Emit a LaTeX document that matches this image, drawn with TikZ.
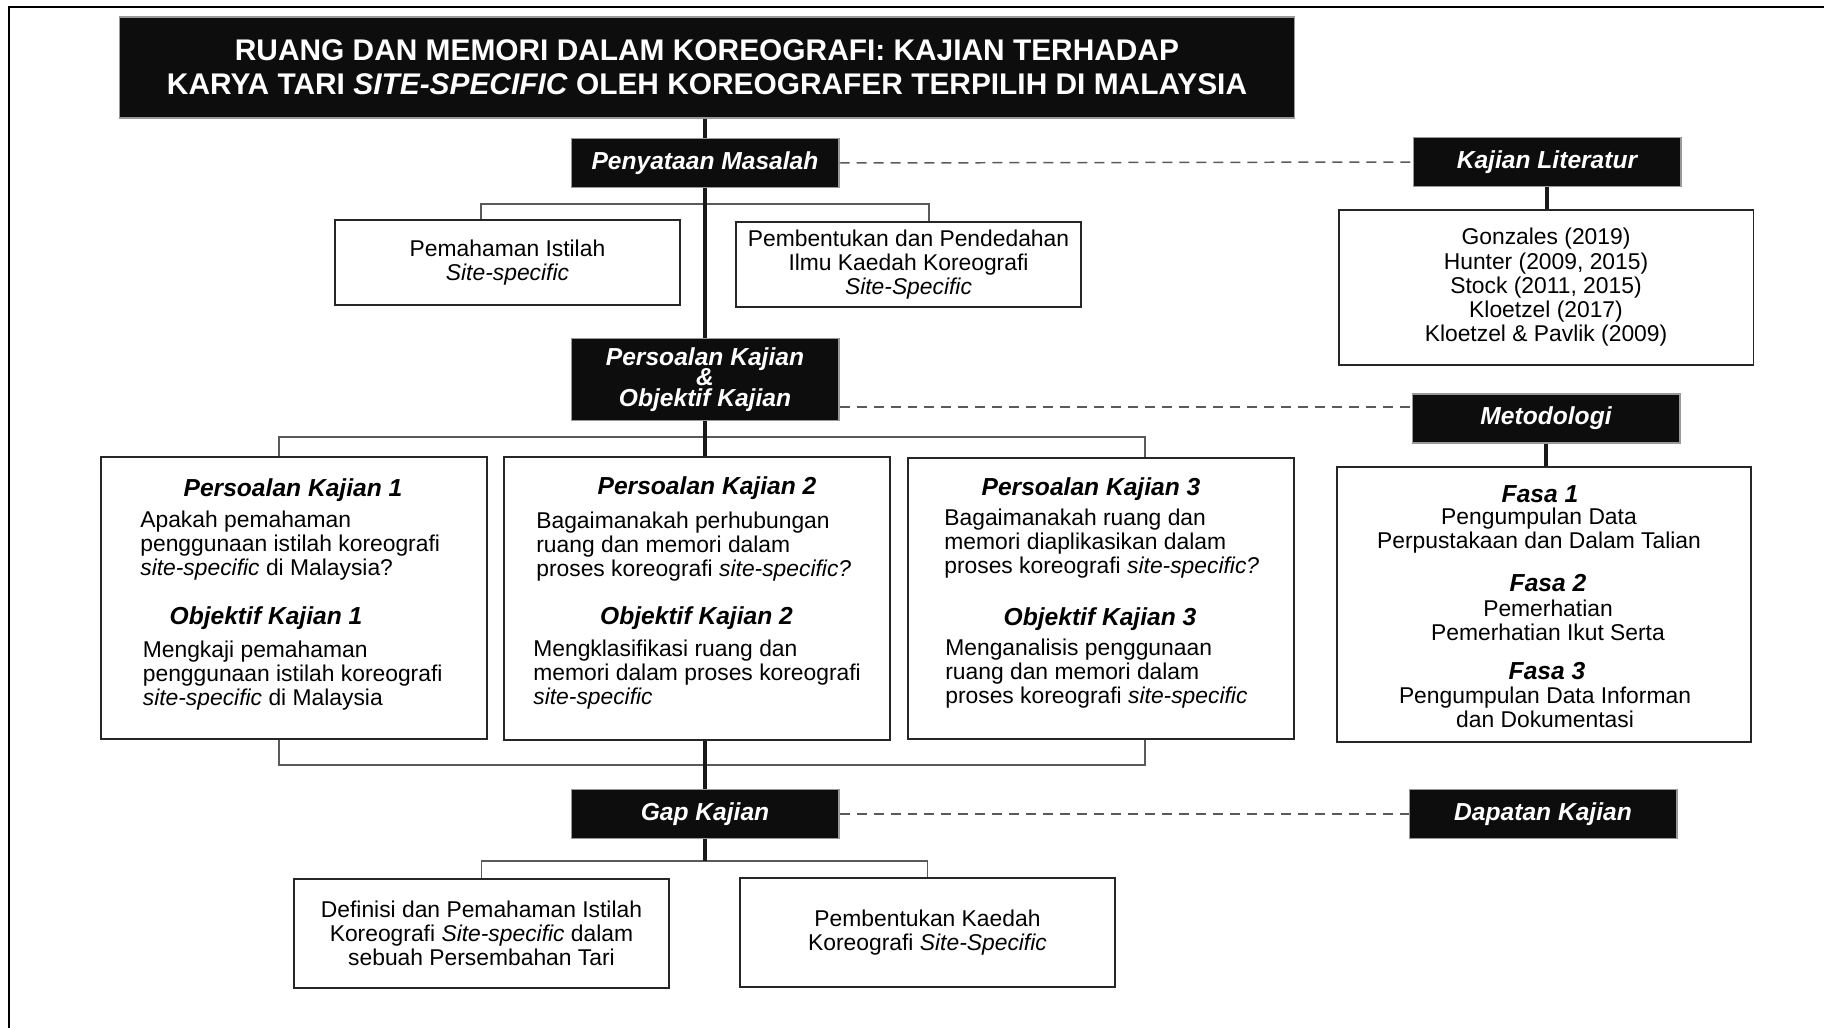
\documentclass[tikz,border=0pt]{standalone}
\usepackage{fontspec}
\setmainfont{Liberation Sans}
\usepackage {tikz}
\usetikzlibrary {positioning}
\definecolor {boxblack}{HTML}{0D0D0D}
\definecolor {linegray}{HTML}{5A5A5A}

\begin{document}
\lineskiplimit=-100pt
\begin{tikzpicture}[x=0.02cm,y=-0.02cm]
  \tikzstyle{head}=[rectangle, fill=boxblack, draw=gray!80, line width=0.6pt, text=white, inner sep=0pt,
minimum width=5.36cm, minimum height=0.98cm, align=center, font=\fontsize{14}{11.6}\selectfont\bfseries\itshape]
  \tikzstyle{card}=[rectangle, draw=black!85, line width=1.1pt, fill=white, inner sep=0pt, align=center,
font=\fontsize{13}{13.8}\selectfont]
  \tikzstyle{txt}=[inner sep=0pt, align=left, font=\fontsize{13}{13.7}\selectfont]
  \tikzstyle{sub}=[inner sep=0pt, font=\fontsize{14}{16}\selectfont\bfseries\itshape]
  \tikzstyle{spine}=[line width=2.8pt, black!90]
  \tikzstyle{bracket}=[line width=0.85pt, linegray]
  \tikzstyle{dashline}=[line width=0.85pt, linegray, dash pattern=on 0.2cm off 0.14cm]

  \useasboundingbox (0,0) rectangle (1824,1027);
  \draw[line width=1.1pt] (9,1040) -- (9,7) -- (1840,7);

  \node[head, minimum width=23.52cm, minimum height=2.02cm, font=\fontsize{17}{19.2}\selectfont\bfseries] (T_title) at (707,67.5)
    {RUANG DAN MEMORI DALAM KOREOGRAFI: KAJIAN TERHADAP\\KARYA TARI \textit{SITE-SPECIFIC} OLEH KOREOGRAFER TERPILIH DI MALAYSIA};

  \node[head] (H_pm) at (705,163) {Penyataan Masalah};
  \node[head] (H_kl) at (1547,162) {Kajian Literatur};
  \node[head, minimum height=1.64cm] (H_po) at (705,379.5) {Persoalan Kajian\\\&\\Objektif Kajian};
  \node[head] (H_meto) at (1546,418.5) {Metodologi};
  \node[head] (H_gap) at (705,814) {Gap Kajian};
  \node[head] (H_dap) at (1543,814) {Dapatan Kajian};

  \node[card, minimum width=6.9cm, minimum height=1.7cm] (B_istilah) at (507.5,262.5) {Pemahaman Istilah\\\textit{Site-specific}};
  \node[card, minimum width=6.9cm, minimum height=1.7cm] (B_pend) at (908.5,264.5)
    {Pembentukan dan Pendedahan\\Ilmu Kaedah Koreografi\\\textit{Site-Specific}};
  \node[card, minimum width=8.3cm, minimum height=3.1cm] (B_lit) at (1546,287.5)
    {Gonzales (2019)\\Hunter (2009, 2015)\\Stock (2011, 2015)\\Kloetzel (2017)\\Kloetzel \& Pavlik (2009)};

  \node[card, minimum width=7.72cm, minimum height=5.64cm] (B_pk1) at (294,598) {};
  \node[card, minimum width=7.72cm, minimum height=5.66cm] (B_pk2) at (697,598.5) {};
  \node[card, minimum width=7.72cm, minimum height=5.62cm] (B_pk3) at (1101,598.5) {};
  \node[card, minimum width=8.28cm, minimum height=5.5cm] (B_fasa) at (1544,604.5) {};

  \node[card, minimum width=7.5cm, minimum height=2.18cm] (B_def) at (481.5,933.5)
    {Definisi dan Pemahaman Istilah\\Koreografi \textit{Site-specific} dalam\\sebuah Persembahan Tari};
  \node[card, minimum width=7.5cm, minimum height=2.18cm] (B_kaedah) at (927.5,932.5)
    {Pembentukan Kaedah\\Koreografi \textit{Site-Specific}};

  \node[sub] (S_pk1) at (293,490) {Persoalan Kajian 1};
  \node[txt, anchor=west] (X_pk1) at (140,545.5) {Apakah pemahaman\\penggunaan istilah koreografi\\\textit{site-specific} di Malaysia?};
  \node[sub] (S_ok1) at (266,618) {Objektif Kajian 1};
  \node[txt, anchor=west] (X_ok1) at (142.5,675.5) {Mengkaji pemahaman\\penggunaan istilah koreografi\\\textit{site-specific} di Malaysia};

  \node[sub] (S_pk2) at (707,488) {Persoalan Kajian 2};
  \node[txt, anchor=west] (X_pk2) at (536,547) {Bagaimanakah perhubungan\\ruang dan memori dalam\\proses koreografi \textit{site-specific?}};
  \node[sub] (S_ok2) at (696.5,618) {Objektif Kajian 2};
  \node[txt, anchor=west] (X_ok2) at (533,674.5) {Mengklasifikasi ruang dan\\memori dalam proses koreografi\\\textit{site-specific}};

  \node[sub] (S_pk3) at (1091,489) {Persoalan Kajian 3};
  \node[txt, anchor=west] (X_pk3) at (944,543.5) {Bagaimanakah ruang dan\\memori diaplikasikan dalam\\proses koreografi \textit{site-specific?}};
  \node[sub] (S_ok3) at (1100,619) {Objektif Kajian 3};
  \node[txt, anchor=west] (X_ok3) at (945,673.5) {Menganalisis penggunaan\\ruang dan memori dalam\\proses koreografi \textit{site-specific}};

  \node[sub] (S_f1) at (1540,494) {Fasa 1};
  \node[txt, align=center] (X_f1) at (1539,531) {Pengumpulan Data\\Perpustakaan dan Dalam Talian};
  \node[sub] (S_f2) at (1548,583) {Fasa 2};
  \node[txt, align=center] (X_f2) at (1548,620) {Pemerhatian\\Pemerhatian Ikut Serta};
  \node[sub] (S_f3) at (1547,671) {Fasa 3};
  \node[txt, align=center] (X_f3) at (1545,707) {Pengumpulan Data Informan\\dan Dokumentasi};

  \draw[bracket] ([xshift=-0.53cm]B_istilah.north) -- ++(0,-15) -| ([xshift=0.41cm]B_pend.north);
  \draw[bracket] ([xshift=-0.3cm]B_pk1.north) -- ++(0,-19) -| ([xshift=0.88cm]B_pk3.north);
  \draw[bracket] ([xshift=-0.3cm]B_pk1.south) -- ++(0,25) -| ([xshift=0.88cm]B_pk3.south);
  \draw[bracket] (B_def.north) -- ++(0,-17) coordinate (C_gap) -| (B_kaedah.north);

  \draw[spine] (H_pm.north |- T_title.south) -- (H_pm.north);
  \draw[spine] (H_pm.south) -- (H_po.north);
  \draw[spine] (H_po.south) -- (H_po.south |- B_pk2.north);
  \draw[spine] (H_gap.north |- B_pk2.south) -- (H_gap.north);
  \draw[spine] (H_gap.south) -- (H_gap.south |- C_gap);

  \draw[line width=2.3pt, black!90] (H_kl.south) -- (H_kl.south |- B_lit.north);
  \draw[line width=2.3pt, black!90] (H_meto.south) -- (H_meto.south |- B_fasa.north);

  \coordinate (C_meto) at ([yshift=0.23cm]H_meto.west);
  \draw[dashline] (H_pm.east) -- (H_kl.west);
  \draw[dashline] (H_po.east |- C_meto) -- (C_meto);
  \draw[dashline] (H_gap.east) -- (H_dap.west);
\end{tikzpicture}
\end{document}
